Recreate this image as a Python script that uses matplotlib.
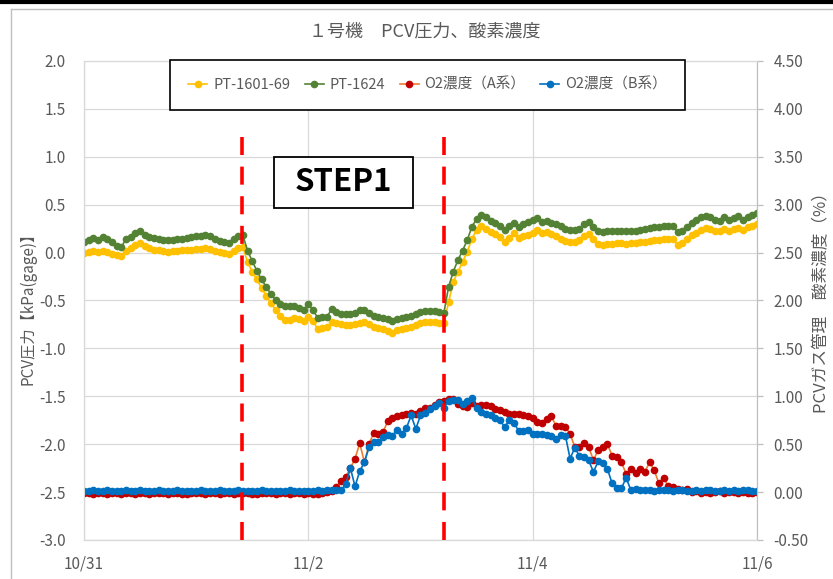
import numpy as np
import matplotlib.pyplot as plt
from matplotlib.lines import Line2D
from matplotlib.patches import Rectangle

plt.rcParams['font.family'] = ['Noto Sans CJK JP', 'DejaVu Sans']

# 1時間ごとのデータ（10/31 0:00 ～ 11/6 0:00）
hours = np.arange(145)
tick_hours = [0, 48, 96, 144]
tick_labels = ['10/31', '11/2', '11/4', '11/6']
step_hours = [33.9, 77.1]

# PCV圧力 PT-1601-69 (kPa gage)
pt1601 = [0.00, 0.01, 0.02, 0.01, 0.02, 0.01, -0.01, -0.03, -0.04, 0.02,
          0.05, 0.08, 0.10, 0.07, 0.05, 0.03, 0.03, 0.02, 0.01, 0.02,
          0.02, 0.03, 0.03, 0.03, 0.04, 0.04, 0.05, 0.04, 0.02, 0.01,
          0.00, -0.01, 0.02, 0.05, 0.06, -0.10, -0.20, -0.28, -0.37, -0.45,
          -0.53, -0.60, -0.66, -0.70, -0.70, -0.68, -0.69, -0.71, -0.67, -0.71,
          -0.80, -0.79, -0.78, -0.72, -0.73, -0.75, -0.76, -0.76, -0.75, -0.73,
          -0.72, -0.75, -0.78, -0.79, -0.80, -0.82, -0.84, -0.81, -0.80, -0.79,
          -0.78, -0.76, -0.74, -0.72, -0.72, -0.72, -0.73, -0.74, -0.52, -0.31,
          -0.20, -0.10, 0.01, 0.14, 0.24, 0.28, 0.25, 0.21, 0.19, 0.16,
          0.11, 0.15, 0.20, 0.15, 0.17, 0.18, 0.20, 0.24, 0.20, 0.21,
          0.19, 0.17, 0.14, 0.12, 0.11, 0.11, 0.13, 0.17, 0.19, 0.14,
          0.09, 0.08, 0.09, 0.09, 0.10, 0.10, 0.09, 0.10, 0.10, 0.11,
          0.11, 0.12, 0.13, 0.13, 0.14, 0.14, 0.14, 0.08, 0.10, 0.14,
          0.18, 0.20, 0.24, 0.26, 0.25, 0.22, 0.23, 0.25, 0.22, 0.25,
          0.26, 0.24, 0.27, 0.28, 0.30]

# PCV圧力 PT-1624 (kPa gage)
pt1624 = [0.11, 0.13, 0.15, 0.13, 0.16, 0.14, 0.11, 0.07, 0.06, 0.14,
          0.16, 0.20, 0.22, 0.18, 0.16, 0.15, 0.14, 0.13, 0.13, 0.13,
          0.14, 0.14, 0.15, 0.16, 0.17, 0.17, 0.18, 0.17, 0.14, 0.12,
          0.11, 0.10, 0.14, 0.17, 0.18, 0.02, -0.09, -0.19, -0.28, -0.36,
          -0.43, -0.50, -0.54, -0.56, -0.56, -0.56, -0.58, -0.60, -0.54, -0.60,
          -0.68, -0.67, -0.67, -0.59, -0.62, -0.64, -0.64, -0.64, -0.63, -0.60,
          -0.60, -0.63, -0.66, -0.67, -0.68, -0.69, -0.71, -0.69, -0.68, -0.67,
          -0.66, -0.64, -0.62, -0.61, -0.61, -0.61, -0.62, -0.63, -0.36, -0.20,
          -0.08, 0.02, 0.13, 0.27, 0.35, 0.39, 0.37, 0.33, 0.31, 0.28,
          0.24, 0.28, 0.31, 0.27, 0.30, 0.32, 0.34, 0.36, 0.32, 0.33,
          0.31, 0.30, 0.28, 0.25, 0.24, 0.24, 0.25, 0.30, 0.32, 0.27,
          0.23, 0.21, 0.22, 0.22, 0.23, 0.23, 0.22, 0.23, 0.23, 0.24,
          0.25, 0.26, 0.27, 0.27, 0.28, 0.28, 0.28, 0.21, 0.23, 0.27,
          0.31, 0.34, 0.37, 0.38, 0.37, 0.34, 0.33, 0.37, 0.34, 0.36,
          0.38, 0.34, 0.37, 0.39, 0.41]

# 酸素濃度 A系 (%)
o2_a = [-0.01, -0.01, -0.02, -0.01, -0.01, -0.02, -0.01, -0.01, -0.02, -0.01,
        -0.01, -0.02, -0.01, -0.01, -0.02, -0.01, -0.01, -0.01, -0.02, -0.01,
        -0.01, -0.02, -0.02, -0.01, -0.01, -0.01, -0.02, -0.01, -0.01, -0.02,
        -0.01, -0.01, -0.02, -0.01, -0.01, -0.01, -0.02, -0.02, -0.01, -0.01,
        -0.01, -0.02, -0.01, -0.01, -0.02, -0.01, -0.01, -0.02, -0.01, -0.02,
        -0.02, -0.01, 0.00, 0.01, 0.05, 0.12, 0.16, 0.25, 0.35, 0.51,
        0.31, 0.50, 0.62, 0.61, 0.63, 0.74, 0.77, 0.79, 0.80, 0.82,
        0.83, 0.82, 0.85, 0.88, 0.88, 0.91, 0.94, 0.95, 0.97, 0.97,
        0.92, 0.90, 0.89, 0.93, 0.90, 0.91, 0.91, 0.90, 0.87, 0.86,
        0.84, 0.82, 0.81, 0.81, 0.80, 0.79, 0.77, 0.73, 0.72, 0.76,
        0.79, 0.69, 0.69, 0.68, 0.61, 0.47, 0.47, 0.51, 0.47, 0.33,
        0.44, 0.47, 0.50, 0.38, 0.37, 0.31, 0.19, 0.24, 0.20, 0.24,
        0.21, 0.31, 0.23, 0.09, 0.15, 0.06, 0.05, 0.03, 0.02, 0.03,
        0.00, 0.01, -0.01, 0.00, -0.01, 0.00, 0.01, -0.01, 0.00, 0.00,
        -0.01, 0.00, -0.01, -0.01, 0.00]

# 酸素濃度 B系 (%)
o2_b = [0.01, 0.01, 0.02, 0.01, 0.01, 0.02, 0.01, 0.01, 0.01, 0.02,
        0.01, 0.01, 0.02, 0.01, 0.01, 0.01, 0.02, 0.01, 0.01, 0.01,
        0.02, 0.01, 0.01, 0.01, 0.01, 0.02, 0.01, 0.01, 0.01, 0.02,
        0.01, 0.01, 0.01, 0.02, 0.01, 0.01, 0.01, 0.01, 0.02, 0.01,
        0.01, 0.01, 0.01, 0.01, 0.02, 0.01, 0.01, 0.01, 0.01, 0.01,
        0.02, 0.01, 0.02, 0.02, 0.02, 0.02, 0.08, 0.25, 0.06, 0.22,
        0.31, 0.47, 0.52, 0.52, 0.57, 0.60, 0.59, 0.65, 0.61, 0.67,
        0.80, 0.66, 0.80, 0.83, 0.87, 0.90, 0.93, 0.88, 0.95, 0.96,
        0.96, 0.92, 0.95, 0.98, 0.88, 0.84, 0.82, 0.80, 0.77, 0.75,
        0.68, 0.75, 0.72, 0.64, 0.64, 0.65, 0.61, 0.61, 0.61, 0.60,
        0.59, 0.55, 0.60, 0.59, 0.35, 0.46, 0.38, 0.37, 0.33, 0.21,
        0.32, 0.30, 0.24, 0.09, 0.04, 0.04, 0.15, 0.02, 0.03, 0.02,
        0.02, 0.02, 0.01, 0.02, 0.02, 0.02, 0.01, 0.02, 0.02, 0.01,
        0.01, 0.02, 0.01, 0.02, 0.02, 0.01, 0.01, 0.02, 0.01, 0.02,
        0.01, 0.02, 0.02, 0.01, 0.01]

grey = '#595959'
gridc = '#D9D9D9'

fig = plt.figure(figsize=(8.33, 5.79), dpi=100)
ax = fig.add_axes([0.1008, 0.0674, 0.808, 0.8273])
ax2 = ax.twinx()

# 圧力（左軸）
ax.plot(hours, pt1601, '-o', color='#FFC000', lw=1.2, ms=4.5, label='PT-1601-69')
ax.plot(hours, pt1624, '-o', color='#548235', lw=1.2, ms=4.5, label='PT-1624')
ax.set_xlim(0, 144)
ax.set_ylim(-3.0, 2.0)
ax.set_yticks(np.arange(-3.0, 2.01, 0.5))
ax.set_yticklabels([f'{v:.1f}' for v in np.arange(-3.0, 2.01, 0.5)])
ax.set_xticks(tick_hours)
ax.set_xticklabels(tick_labels)
ax.grid(True, color=gridc, lw=0.9)
ax.set_axisbelow(True)
ax.tick_params(axis='y', length=0, pad=13, labelsize=11, labelcolor=grey)
ax.tick_params(axis='x', length=0, pad=11, labelsize=11, labelcolor=grey)

# 酸素濃度（右軸）
ax2.plot(hours, o2_a, '-o', color='#ED7D31', mfc='#C00000', mec='#C00000',
         lw=1.2, ms=4.5, label='O2濃度（A系）')
ax2.plot(hours, o2_b, '-o', color='#0070C0', lw=1.2, ms=4.5, label='O2濃度（B系）')
ax2.set_ylim(-0.5, 4.5)
ax2.set_yticks(np.arange(-0.5, 4.51, 0.5))
ax2.set_yticklabels([f'{v:.2f}' for v in np.arange(-0.5, 4.51, 0.5)])
ax2.tick_params(axis='y', length=4, width=0.9, color='#BFBFBF', pad=8,
                labelsize=11, labelcolor=grey)

for a in (ax, ax2):
    for s in a.spines.values():
        s.set_color(gridc)
ax2.spines['right'].set_color('#BFBFBF')
ax.spines['left'].set_color('#BFBFBF')
ax.spines['bottom'].set_color('#BFBFBF')

# STEP1 の区間
for h in step_hours:
    ax2.axvline(h, ymin=0, ymax=0.86, color='#FF0000', lw=2.6, dashes=(5, 3.2), zorder=5)

ax2.add_patch(Rectangle((40.7, 2.966), 29.6, 0.532, facecolor='white',
                        edgecolor='black', lw=1.3, zorder=6))
ax2.text(55.5, 3.232, 'STEP1', ha='center', va='center', fontsize=22.5,
         fontweight='bold', color='black', zorder=7)

h1, l1 = ax.get_legend_handles_labels()
h2, l2 = ax2.get_legend_handles_labels()
leg = ax2.legend(h1 + h2, l1 + l2, loc='upper left',
                 bbox_to_anchor=(0.1278, 0.0, 0.765, 1.003), mode='expand',
                 ncol=4, fontsize=10.5, frameon=True, fancybox=False,
                 edgecolor='black', framealpha=1, handlelength=1.3,
                 columnspacing=1.0, handletextpad=0.4, borderpad=1.25,
                 borderaxespad=0)
leg.get_frame().set_linewidth(1.2)
for t in leg.get_texts():
    t.set_color(grey)
leg.set_zorder(10)

fig.text(0.51, 0.945, '１号機　PCV圧力、酸素濃度', ha='center', va='center',
         fontsize=13, color=grey)
fig.text(0.033, 0.473, 'PCV圧力【kPa(gage)】', rotation=90, ha='center',
         va='center', fontsize=11, color=grey)
fig.text(0.986, 0.485, 'PCVガス管理　酸素濃度（%）', rotation=90, ha='center',
         va='center', fontsize=12, color=grey)

# グラフ外枠
fig.add_artist(Line2D([0, 1], [0.996, 0.996], color='black', lw=3))
fig.add_artist(Line2D([10.5 / 833, 1], [1 - 9 / 579, 1 - 9 / 579], color='#BFBFBF', lw=1))
fig.add_artist(Line2D([10.5 / 833, 10.5 / 833], [0, 1 - 9 / 579], color='#BFBFBF', lw=1))

fig.savefig('out.png', dpi=100)
